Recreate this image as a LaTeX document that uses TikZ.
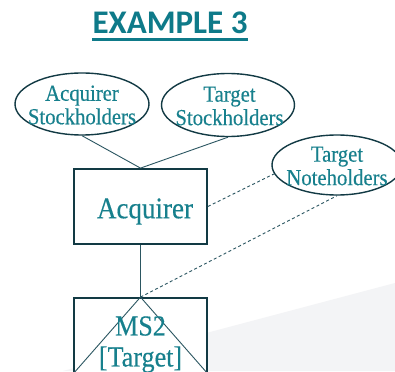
\documentclass[tikz,border=0pt]{standalone}
\usepackage{fontspec}
\setmainfont[FakeStretch=0.9,FakeBold=0.35]{Liberation Serif}
\newfontfamily\titlefont{Carlito}
\usetikzlibrary{shapes.geometric}
\definecolor{tealtext}{HTML}{17808D}
\definecolor{titlecol}{HTML}{0E7A89}
\definecolor{edgecol}{HTML}{123A44}
\definecolor{linkcol}{HTML}{2B5661}
\definecolor{wedgecol}{HTML}{F3F4F6}
\begin{document}
\begin{tikzpicture}[x=1pt,y=-1pt,
  party/.style={ellipse,draw=edgecol,line width=1.4pt,fill=white,inner sep=0pt},
  ptext/.style={text=tealtext,align=center,font=\fontsize{23}{23.5}\selectfont},
  entity/.style={rectangle,draw=edgecol,line width=1.8pt,fill=white,minimum width=133pt,minimum height=75pt,inner sep=0pt},
  etext/.style={text=tealtext,align=center,font=\fontsize{29}{31}\selectfont},
  link/.style={draw=linkcol,line width=0.9pt},
  dlink/.style={link,dash pattern=on 3pt off 2.5pt}]
\fill[white] (0,0) rectangle (395,371);
\useasboundingbox (0,0) rectangle (395,371);
\fill[wedgecol] (395,283) -- (63,371) -- (395,371) -- cycle;
% title
\node[anchor=base,inner sep=0pt,text=titlecol,font=\titlefont\bfseries\fontsize{33}{36}\selectfont] (title) at (170,34) {EXAMPLE 3};
\draw[titlecol,line width=2.4pt] ([yshift=-5.5pt]title.base west) -- ([yshift=-5.5pt]title.base east);
% parties
\node[party,minimum width=134pt,minimum height=62pt,label={[ptext,yshift=-1pt]center:Acquirer\\Stockholders}] (e1) at (82,104) {};
\node[party,minimum width=133pt,minimum height=63pt,label={[ptext,xshift=1.5pt,yshift=-1pt]center:Target\\Stockholders}] (e2) at (228,105) {};
\node[party,minimum width=130pt,minimum height=60pt,label={[ptext,yshift=-1pt]center:Target\\Noteholders}] (e3) at (337,165) {};
% entities
\node[entity,label={[etext,font=\fontsize{30}{31}\selectfont,xshift=4.5pt,yshift=-5pt]center:Acquirer}] (b1) at (140.5,206.5) {};
\node[entity] (b2) at (140.5,335.5) {};
% connectors
\draw[link] (e1.south) -- (b1.north);
\draw[link] (e2.south) -- (b1.north);
\draw[link] (b1.south) -- (b2.north);
\draw[dlink] (b1.east) -- (e3.188);
\draw[dlink] (b2.north) -- (e3.south);
\draw[link] (b2.north) -- (b2.south west);
\draw[link] (b2.north) -- (b2.south east);
\node[etext,yshift=-9pt] (b2text) at (b2.center) {MS2\\{[Target]}};
\end{tikzpicture}
\end{document}
